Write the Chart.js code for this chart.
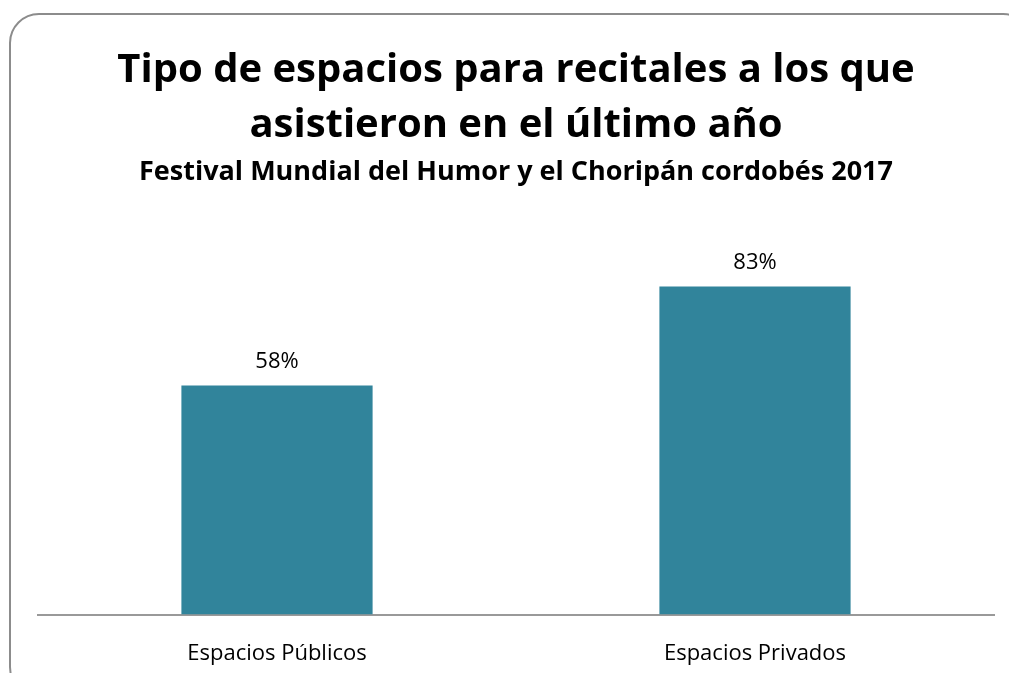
<!DOCTYPE html>
<html>
<head>
<meta charset="utf-8">
<script src="https://cdn.jsdelivr.net/npm/chart.js@4/dist/chart.umd.min.js"></script>
<style>
    html, body { margin: 0; padding: 0; background: #fff; overflow: hidden; }
    #frame {
        position: absolute; left: 9px; top: 13px;
        width: 1020px; height: 680px;
        border: 2px solid #8c8c8c; border-radius: 30px;
    }
    #wrap { position: absolute; left: 0; top: 0; width: 1009px; height: 673px; }
</style>
</head>
<body>
<div id="frame"></div>
<div id="wrap"><canvas id="chart" width="1009" height="673"></canvas></div>
<script>
// chart data
const categories = ["Espacios Públicos", "Espacios Privados"];
const percentages = [58, 83];
const titleLines = ["Tipo de espacios para recitales a los que", "asistieron en el último año"];
const subtitleText = "Festival Mundial del Humor y el Choripán cordobés 2017";

const FONT = "'Open Sans', 'DejaVu Sans', sans-serif";

// labels on top of bars
const valueLabels = {
    id: "valueLabels",
    afterDatasetsDraw: function (chart) {
        const ctx = chart.ctx;
        const meta = chart.getDatasetMeta(0);
        ctx.save();
        ctx.font = "22px " + FONT;
        ctx.fillStyle = "#000";
        ctx.textAlign = "center";
        ctx.textBaseline = "middle";
        meta.data.forEach(function (bar, i) {
            ctx.fillText(percentages[i] + "%", bar.x, bar.y - 24);
        });
        ctx.restore();
    }
};

new Chart(document.getElementById("chart").getContext("2d"), {
    type: "bar",
    data: {
        labels: categories,
        datasets: [{
            data: percentages,
            backgroundColor: "#31849B",
            barPercentage: 0.4,
            categoryPercentage: 1
        }]
    },
    options: {
        responsive: false,
        animation: false,
        layout: { padding: { left: 38, right: 15, bottom: -20, top: 0 } },
        plugins: {
            legend: { display: false },
            tooltip: { enabled: false },
            title: {
                display: true,
                text: titleLines,
                color: "#000",
                font: { family: FONT, size: 40, weight: "bold", lineHeight: 1.375 },
                padding: { top: 43, bottom: 0 }
            },
            subtitle: {
                display: true,
                text: subtitleText,
                color: "#000",
                font: { family: FONT, size: 27, weight: "bold", lineHeight: 1.2 },
                padding: { top: 3, bottom: 31 }
            }
        },
        scales: {
            x: {
                grid: { display: false, drawTicks: false },
                border: { display: true, color: "#999", width: 2 },
                ticks: { color: "#000", font: { family: FONT, size: 22 }, padding: 26 }
            },
            y: {
                display: false,
                min: 0,
                max: 100
            }
        }
    },
    plugins: [valueLabels]
});
</script>
</body>
</html>
